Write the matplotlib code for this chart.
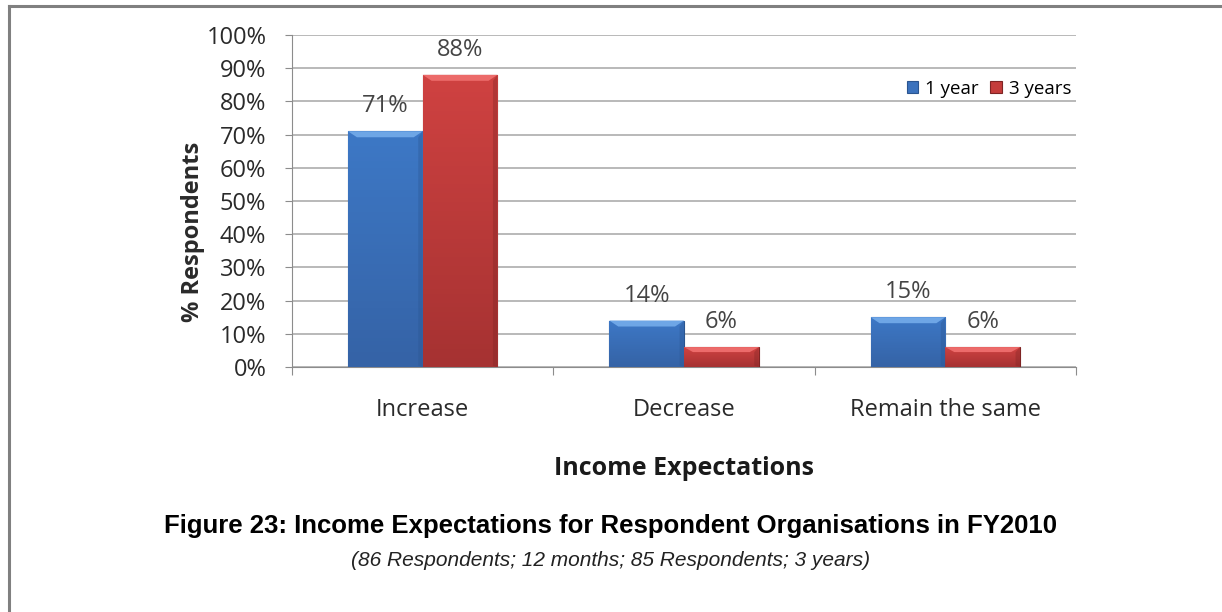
import numpy as np
import matplotlib
matplotlib.use("Agg")
import matplotlib.pyplot as plt
from matplotlib.colors import LinearSegmentedColormap
from matplotlib.patches import Polygon

# income expectation shares (% of respondents)
categories = ["Increase", "Decrease", "Remain the same"]
one_year = [71, 14, 15]
three_years = [88, 6, 6]
series_names = ["1 year", "3 years"]
yticks = [0, 10, 20, 30, 40, 50, 60, 70, 80, 90, 100]

main_font = "Open Sans"
caption_font = "Liberation Sans"

fig = plt.figure(figsize=(12.22, 6.12), dpi=100)
ax = fig.add_axes([0.239, 0.4003, 0.6415, 0.5425])

x = np.arange(len(categories))
w = 0.286

# vertical gradients for the bevelled bars
blue_cmap = LinearSegmentedColormap.from_list("b", ["#3563a6", "#3d78c6"])
red_cmap = LinearSegmentedColormap.from_list("r", ["#a63232", "#cf4241"])
grad = np.linspace(0, 1, 64).reshape(-1, 1)


def draw_bars(xpos, vals, face, edge, light, cmap, label):
    bars = ax.bar(xpos, vals, width=w, color=face, edgecolor=edge,
                  linewidth=0.8, label=label, zorder=3)
    for b in bars:
        x0, y0 = b.get_x(), b.get_y()
        bw, bh = b.get_width(), b.get_height()
        im = ax.imshow(grad, cmap=cmap, origin="lower", aspect="auto",
                       extent=[x0, x0 + bw, y0, y0 + bh], zorder=3.5)
        im.set_clip_path(b)
        # top bevel
        bev_x = bw * 0.12
        bev_y = min(1.8, bh * 0.25)
        top = Polygon([[x0, y0 + bh], [x0 + bw, y0 + bh],
                       [x0 + bw - bev_x, y0 + bh - bev_y],
                       [x0 + bev_x, y0 + bh - bev_y]],
                      closed=True, facecolor=light, edgecolor="none", zorder=4)
        ax.add_patch(top)
        # darker right side for depth
        side = Polygon([[x0 + bw, y0 + bh], [x0 + bw, y0],
                        [x0 + bw - bev_x * 0.5, y0 + 0.4],
                        [x0 + bw - bev_x * 0.5, y0 + bh - bev_y]],
                       closed=True, facecolor=edge, alpha=0.35,
                       edgecolor="none", zorder=4)
        ax.add_patch(side)
        ax.annotate(f"{int(b.get_height())}%", (x0 + bw / 2, y0 + bh),
                    xytext=(0, 18), textcoords="offset points",
                    ha="center", va="center", fontsize=17, color="#444444",
                    family=main_font, zorder=5)
    return bars


draw_bars(x - w / 2, one_year, "#3b72bd", "#2a5590", "#6ea6e6",
          blue_cmap, series_names[0])
draw_bars(x + w / 2, three_years, "#c43c3b", "#7e2424", "#ec6b6a",
          red_cmap, series_names[1])

ax.set_xlim(-0.5, len(categories) - 0.5)
ax.set_ylim(0, 100)
ax.set_yticks(yticks)
ax.set_yticklabels([f"{v}%" for v in yticks], family=main_font, fontsize=17,
                   color="#2a2a2a")
ax.yaxis.grid(True, color="#a6a6a6", linewidth=1.1, zorder=0)
ax.set_axisbelow(True)

# category boundaries carry the x ticks, labels sit at the centres
ax.set_xticks(np.arange(len(categories) + 1) - 0.5)
ax.set_xticklabels([])
ax.set_xticks(x, minor=True)
ax.set_xticklabels(categories, minor=True, family=main_font, fontsize=17,
                   color="#2a2a2a")
ax.tick_params(axis="x", which="minor", length=0, pad=22)
ax.tick_params(axis="x", which="major", length=5.5, color="#8c8c8c", direction="out")
ax.tick_params(axis="y", length=5, color="#8c8c8c", pad=13.5)

for s in ["top", "right"]:
    ax.spines[s].set_visible(False)
ax.spines["left"].set_color("#8c8c8c")
ax.spines["bottom"].set_color("#8c8c8c")

ax.set_ylabel("% Respondents", family=main_font, fontsize=17,
              fontweight="bold", color="#2a2a2a")
ax.yaxis.set_label_coords(-0.111, 0.407)
ax.set_xlabel("Income Expectations", family=main_font, fontsize=18,
              fontweight="bold", color="#1a1a1a", labelpad=25)

leg = ax.legend(loc="center right", bbox_to_anchor=(1.004, 0.838), ncol=2,
                frameon=False, prop={"family": main_font, "size": 13.5},
                handlelength=0.6, handleheight=0.6, handletextpad=0.4,
                columnspacing=0.6, borderaxespad=0)

fig.text(0.5, 0.141, "Figure 23: Income Expectations for Respondent Organisations in FY2010",
         ha="center", va="center", family=caption_font, fontweight="bold",
         fontsize=18.5, color="black")
fig.text(0.5, 0.0835, "(86 Respondents; 12 months; 85 Respondents; 3 years)",
         ha="center", va="center", family=caption_font, style="italic",
         fontsize=15, color="#222222")

# page frame (top and left edges)
fig.add_artist(plt.Line2D([0.0072, 1.0], [0.9895, 0.9895], color="#808080",
                          linewidth=2.2, transform=fig.transFigure))
fig.add_artist(plt.Line2D([0.0072, 0.0072], [0.0, 0.9895], color="#808080",
                          linewidth=2.2, transform=fig.transFigure))

fig.savefig("out.png", dpi=100)
